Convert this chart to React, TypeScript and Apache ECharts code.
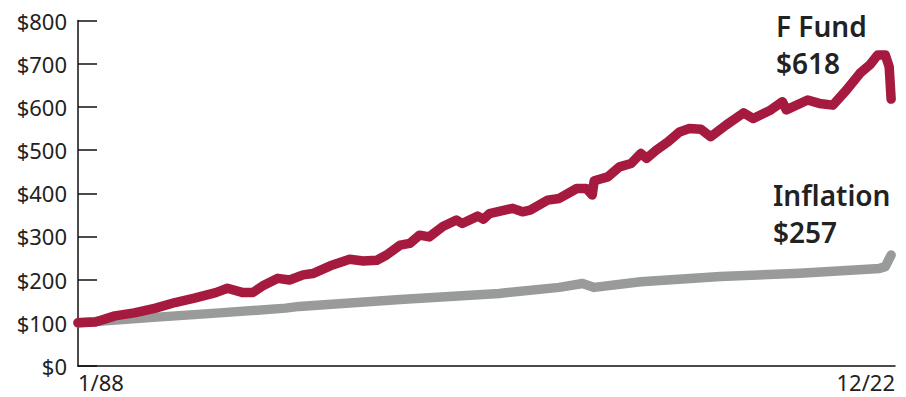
import React, { useEffect, useRef } from "react";
import * as echarts from "echarts";

// Month offsets from 1/88 (0) to 12/22 (419)
const fundMonths = [0, 9, 19, 29, 40, 50, 60, 71, 77, 85, 90, 95, 103, 109, 116, 121, 130, 140, 147, 154, 159, 166, 171, 176, 181, 188, 195, 198, 206, 209, 212, 224, 229, 233, 242, 248, 257, 262, 265, 266, 273, 279, 285, 290, 293, 298, 304, 310, 315, 321, 326, 334, 343, 348, 357, 363, 365, 376, 382, 389, 396, 403, 408, 412, 416, 418, 419];
const fFund = [100, 102, 116, 123, 134, 147, 157, 170, 180, 170, 170, 185, 203, 199, 211, 214, 232, 247, 243, 245, 257, 280, 284, 303, 299, 323, 338, 330, 347, 340, 353, 365, 357, 361, 384, 388, 411, 411, 396, 429, 438, 461, 469, 492, 481, 500, 519, 542, 550, 548, 531, 558, 586, 573, 593, 612, 593, 616, 608, 604, 639, 678, 697, 720, 720, 693, 618];

const inflMonths = [0, 37, 73, 107, 114, 166, 217, 248, 260, 266, 290, 331, 372, 413, 416, 419];
const inflation = [100, 112, 123, 134, 138, 154, 168, 182, 191, 182, 195, 207, 215, 226, 230, 257];

const xLabels = ["1/88", "12/22"];
const yTicks = [0, 100, 200, 300, 400, 500, 600, 700, 800];

const fundName = "F Fund";
const fundEnd = "$618";
const inflName = "Inflation";
const inflEnd = "$257";

export default function App() {
  const ref = useRef<HTMLDivElement>(null);
  useEffect(() => {
    if (!ref.current) return;
    const chart = echarts.init(ref.current, undefined, { renderer: "svg" });
    const font = "'Noto Sans', sans-serif";
    chart.setOption({
      animation: false,
      grid: { left: 78, right: 11, top: 20.5, bottom: 31, containLabel: false },
      xAxis: {
        type: "value",
        min: 0,
        max: 421,
        interval: 421,
        axisLine: { show: true, lineStyle: { color: "#111", width: 1.5 } },
        axisTick: { show: false },
        splitLine: { show: false },
        axisLabel: {
          showMinLabel: true,
          showMaxLabel: true,
          alignMinLabel: "left",
          alignMaxLabel: "right",
          margin: 5,
          fontFamily: font,
          fontSize: 22,
          color: "#222",
          formatter: (v: number) => (v === 0 ? xLabels[0] : xLabels[1]),
        },
      },
      yAxis: {
        type: "value",
        min: yTicks[0],
        max: yTicks[yTicks.length - 1],
        interval: 100,
        axisLine: { show: true, lineStyle: { color: "#111", width: 1.5 } },
        axisTick: { show: true, inside: true, length: 19, lineStyle: { color: "#111", width: 1.5 } },
        splitLine: { show: false },
        axisLabel: {
          margin: 11,
          fontFamily: font,
          fontSize: 22,
          color: "#222",
          formatter: (v: number) => "$" + v,
        },
      },
      series: [
        {
          type: "line",
          name: inflName,
          data: inflMonths.map((m, i) => [m, inflation[i]]),
          showSymbol: false,
          lineStyle: { color: "#999b9b", width: 9.5, cap: "round", join: "round" },
          z: 2,
        },
        {
          type: "line",
          name: fundName,
          data: fundMonths.map((m, i) => [m, fFund[i]]),
          showSymbol: false,
          lineStyle: { color: "#a71a3f", width: 9.5, cap: "round", join: "round" },
          z: 3,
        },
      ],
      graphic: [
        {
          type: "text",
          left: 776,
          top: 7,
          style: { text: fundName + "\n" + fundEnd, font: `600 28px ${font}`, fill: "#222", lineHeight: 37 },
        },
        {
          type: "text",
          left: 773,
          top: 176,
          style: { text: inflName + "\n" + inflEnd, font: `600 28px ${font}`, fill: "#222", lineHeight: 37 },
        },
      ],
    });
    return () => chart.dispose();
  }, []);
  return <div ref={ref} style={{ width: 906, height: 397, position: "absolute", left: 0, top: 0 }} />;
}
